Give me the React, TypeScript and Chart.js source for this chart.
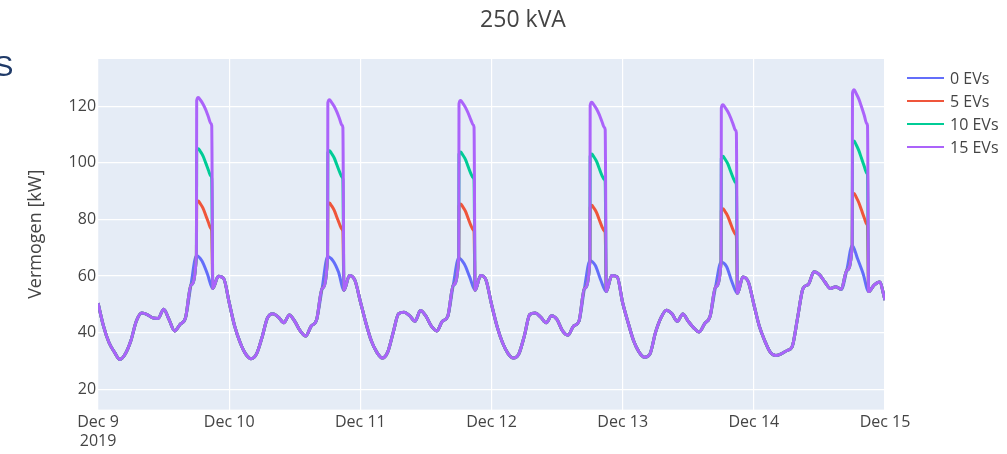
import React, { useEffect, useRef } from "react";
import { Chart, registerables } from "chart.js";

Chart.register(...registerables);

const chartTitle = "250 kVA";
const yAxisTitle = "Vermogen [kW]";
const dayLabels = ["Dec 9", "Dec 10", "Dec 11", "Dec 12", "Dec 13", "Dec 14", "Dec 15"];
const yearLabel = "2019";
const seriesNames = ["0 EVs", "5 EVs", "10 EVs", "15 EVs"];
const seriesColors = ["#636EFA", "#EF553B", "#00CC96", "#AB63FA"];

// hourly load without EVs, Dec 9 00:00 .. Dec 15 00:00 (kW)
const load0EVs = [
  // Dec 9
  50.4, 42.3, 36.5, 33.1, 30.5, 32.5, 37.1, 44.0, 46.9, 46.4, 45.2, 45.0,
  48.3, 44.6, 40.6, 42.9, 45.2, 56.8, 67.2, 65.4, 60.8, 55.6, 59.9, 59.1,
  // Dec 10
  50.6, 42.3, 36.5, 32.5, 30.8, 32.5, 38.3, 45.2, 46.7, 45.5, 43.5, 46.2,
  44.0, 40.6, 38.8, 42.3, 44.6, 55.6, 66.8, 65.4, 61.4, 55.0, 60.2, 58.5,
  // Dec 11
  51.0, 43.5, 37.1, 33.1, 31.0, 33.1, 40.0, 46.7, 47.2, 46.0, 44.0, 47.8,
  45.8, 42.3, 40.6, 44.0, 45.8, 56.8, 66.4, 64.3, 59.7, 55.0, 60.2, 58.5,
  // Dec 12
  50.0, 42.3, 36.5, 32.7, 31.0, 32.5, 38.8, 46.4, 46.9, 45.5, 43.5, 46.0,
  44.6, 40.6, 39.1, 42.3, 44.0, 55.6, 65.4, 63.7, 58.5, 54.5, 60.2, 59.7,
  // Dec 13
  50.5, 43.5, 37.1, 33.1, 31.3, 32.5, 40.0, 45.2, 47.9, 46.7, 44.0, 46.6,
  44.0, 41.7, 40.2, 43.2, 45.8, 56.2, 64.9, 63.4, 57.9, 53.9, 59.7, 57.9,
  // Dec 14
  50.0, 42.3, 37.1, 33.1, 31.9, 32.5, 33.6, 35.0, 45.2, 55.6, 57.1, 61.5,
  60.5, 57.9, 55.6, 56.2, 55.3, 62.0, 70.8, 66.0, 60.8, 54.5, 56.8, 57.9,
  // Dec 15 00:00
  51.5,
];

// hours of the day at which the evening EV charging block is sampled
const peakHours = [18.05, 18.35, 18.7, 19.2, 19.7, 20.2, 20.65, 20.8];

// evening charging block, one row per day (Dec 9 .. Dec 14)
const peak5EVs = [
  [85.7, 86.5, 85.6, 84.0, 81.5, 78.9, 76.8, 76.0],
  [85.0, 85.8, 84.9, 83.3, 80.8, 78.3, 76.5, 75.8],
  [84.7, 85.5, 84.6, 83.0, 80.5, 78.0, 76.3, 75.6],
  [84.2, 85.0, 84.1, 82.5, 80.0, 77.5, 75.9, 75.2],
  [83.0, 83.8, 82.9, 81.3, 78.8, 76.3, 74.7, 74.0],
  [88.3, 89.2, 88.0, 86.0, 83.3, 80.6, 78.4, 77.6],
];
const peak10EVs = [
  [104.2, 105.0, 104.1, 102.5, 100.0, 97.4, 95.3, 94.5],
  [103.5, 104.3, 103.4, 101.8, 99.3, 96.8, 94.9, 94.2],
  [103.0, 103.8, 102.9, 101.3, 98.8, 96.3, 94.7, 94.0],
  [102.3, 103.1, 102.2, 100.6, 98.1, 95.6, 94.1, 93.4],
  [101.5, 102.3, 101.4, 99.8, 97.3, 94.8, 93.0, 92.3],
  [106.8, 107.7, 106.5, 104.4, 101.6, 98.8, 96.4, 95.6],
];
const peak15EVs = [
  [122.0, 123.1, 122.3, 120.8, 118.8, 116.2, 113.9, 113.1],
  [121.2, 122.3, 121.5, 120.0, 118.0, 115.5, 113.3, 112.5],
  [120.9, 122.0, 121.2, 119.7, 117.7, 115.3, 113.4, 112.6],
  [120.3, 121.4, 120.6, 119.1, 117.1, 114.6, 112.5, 111.7],
  [119.4, 120.5, 119.7, 118.2, 116.2, 113.7, 111.5, 110.7],
  [124.6, 125.8, 124.6, 122.6, 119.8, 116.8, 113.9, 113.1],
];

const yMin = 12.8;
const yMax = 136.7;

function buildSeries(peaks: number[][] | null) {
  const pts: { x: number; y: number }[] = [];
  for (let i = 0; i < load0EVs.length; i++) {
    const day = Math.floor(i / 24);
    const h = i % 24;
    const inPeak = peaks && day < peaks.length;
    if (inPeak && (h === 19 || h === 20)) continue;
    pts.push({ x: i, y: load0EVs[i] });
    if (inPeak && h === 18) {
      peakHours.forEach((ph, k) => pts.push({ x: day * 24 + ph, y: peaks![day][k] }));
    }
  }
  return pts;
}

const decorPlugin = {
  id: "decor",
  beforeDraw(chart: any) {
    const { ctx, chartArea } = chart;
    ctx.save();
    ctx.fillStyle = "#E5ECF6";
    ctx.fillRect(chartArea.left, chartArea.top, chartArea.right - chartArea.left, chartArea.bottom - chartArea.top);
    ctx.restore();
  },
  afterDraw(chart: any) {
    const { ctx, chartArea } = chart;
    ctx.save();
    // title
    ctx.fillStyle = "#444";
    ctx.font = "23px 'Open Sans'";
    ctx.textAlign = "center";
    ctx.textBaseline = "middle";
    ctx.fillText(chartTitle, 523, 20);
    // cropped slide heading letter
    ctx.fillStyle = "#1F3A68";
    ctx.font = "29px 'Liberation Sans'";
    ctx.textAlign = "left";
    ctx.textBaseline = "alphabetic";
    ctx.fillText("S", -6, 76);
    // legend
    const lx = chartArea.right + 22;
    ctx.font = "16px 'Open Sans'";
    ctx.textBaseline = "middle";
    chart.data.datasets.forEach((ds: any, i: number) => {
      const y = 78 + i * 23;
      ctx.strokeStyle = ds.borderColor;
      ctx.lineWidth = 2.2;
      ctx.beginPath();
      ctx.moveTo(lx, y);
      ctx.lineTo(lx + 37, y);
      ctx.stroke();
      ctx.fillStyle = "#444";
      ctx.fillText(ds.label, lx + 43, y + 1);
    });
    ctx.restore();
  },
};

export default function App() {
  const ref = useRef<HTMLCanvasElement | null>(null);
  useEffect(() => {
    if (!ref.current) return;
    const peaksList = [null, peak5EVs, peak10EVs, peak15EVs];
    const chart = new Chart(ref.current, {
      type: "line",
      data: {
        datasets: seriesNames.map((name, i) => ({
          label: name,
          data: buildSeries(peaksList[i]),
          borderColor: seriesColors[i],
          backgroundColor: seriesColors[i],
          borderWidth: 3,
          pointRadius: 0,
          cubicInterpolationMode: "monotone" as const,
          order: seriesNames.length - i,
        })),
      },
      options: {
        animation: false,
        responsive: false,
        layout: { padding: { left: 25, right: 122, top: 59, bottom: 0 } },
        plugins: { legend: { display: false }, title: { display: false }, tooltip: { enabled: false } },
        scales: {
          x: {
            type: "linear",
            min: 0,
            max: 144,
            grid: { color: "#ffffff", lineWidth: 1.2, drawTicks: false },
            border: { display: false },
            ticks: {
              stepSize: 24,
              autoSkip: false,
              maxRotation: 0,
              padding: 3,
              color: "#444",
              font: { family: "'Open Sans'", size: 16, lineHeight: 1.2 },
              callback: (v: any) => {
                const i = Math.round(Number(v) / 24);
                return i === 0 ? [dayLabels[0], yearLabel] : dayLabels[i];
              },
            },
          },
          y: {
            min: yMin,
            max: yMax,
            grid: { color: "#ffffff", lineWidth: 1.2, drawTicks: false },
            border: { display: false },
            ticks: {
              stepSize: 20,
              includeBounds: false,
              padding: 2,
              color: "#444",
              font: { family: "'Open Sans'", size: 16 },
            },
            title: {
              display: true,
              text: yAxisTitle,
              color: "#444",
              font: { family: "'Open Sans'", size: 18 },
              padding: { top: 0, bottom: 20 },
            },
          },
        },
      },
      plugins: [decorPlugin],
    });
    return () => chart.destroy();
  }, []);
  return (
    <div style={{ position: "fixed", left: 0, top: 0, width: 1007, height: 454, background: "#fff" }}>
      <canvas ref={ref} width={1007} height={454} />
    </div>
  );
}
